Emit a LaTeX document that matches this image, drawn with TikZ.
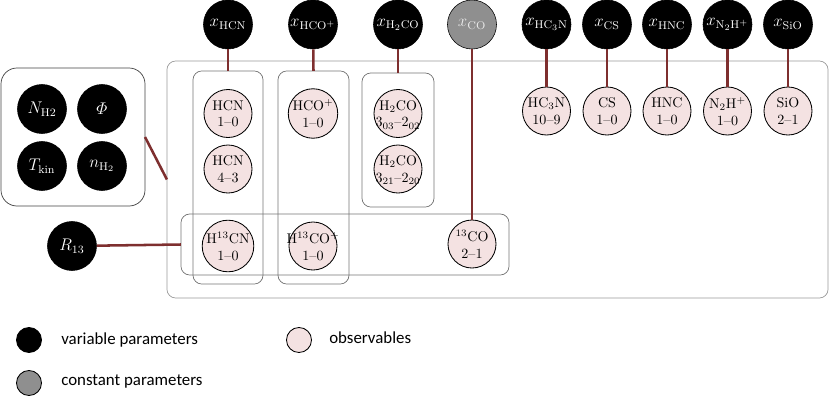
\documentclass[tikz,border=0pt]{standalone}
\usepackage{amsmath}
\usepackage{fontspec}
\newfontfamily\legendfont{Carlito}
\usepackage{tikz}
\definecolor{obspink}{HTML}{F4E2E2}
\definecolor{constgray}{HTML}{8F8F8F}
\definecolor{linkred}{HTML}{7E2F2F}

\begin{document}
\begin{tikzpicture}[x=0.025cm,y=-0.025cm,
    varpar/.style={circle, draw=black, fill=black, text=white, minimum size=1.225cm, inner sep=0pt, font=\large},
    constpar/.style={varpar, fill=constgray, text=white!92!black},
    obs/.style={circle, draw=black, line width=0.6pt, fill=obspink, minimum size=1.2cm, inner sep=0pt, align=center, font=\normalsize, text depth=0pt},
    plate/.style={draw=black!55, line width=0.5pt, rounded corners=0.22cm, inner sep=0pt, outer sep=0pt},
    link/.style={draw=linkred, line width=1.8pt},
    legdot/.style={circle, draw=black, line width=0.6pt, minimum size=0.625cm, inner sep=0pt},
    legtext/.style={anchor=west, inner sep=0pt, font=\legendfont\fontsize{12}{14}\selectfont}]
    \useasboundingbox (0,0) rectangle (830,396);

    % plates
    \node[plate, draw=black!40, minimum width=16.525cm, minimum height=5.925cm] (bigbox) at (497.5,179.5) {};
    \node[plate, minimum width=1.75cm, minimum height=5.325cm] (boxHCN) at (228,177.5) {};
    \node[plate, minimum width=1.775cm, minimum height=5.325cm] (boxHCO) at (313.5,177.5) {};
    \node[plate, minimum width=1.8cm, minimum height=3.35cm] (boxHHCO) at (398,140) {};
    \node[plate, minimum width=8.2cm, minimum height=1.525cm] (boxiso) at (345,244.5) {};
    \node[plate, draw=black!75, rounded corners=0.4cm, minimum width=3.6cm, minimum height=3.45cm] (physbox) at (73,137) {};

    % physical parameters
    \node[varpar] (NHH) at (42,109) {$N_{\mathrm{H2}}$};
    \node[varpar] (phi) at (102,109) {$\varPhi$};
    \node[varpar] (Tkin) at (42,166) {$T_{\mathrm{kin}}$};
    \node[varpar] (nHH) at (102,166) {$n_{\mathrm{H_2}}$};
    \node[varpar] (Rthirteen) at (72,246) {$R_{13}$};

    % abundances
    \node[varpar] (xHCN) at (228,24.5) {$x_{\mathrm{HCN}}$};
    \node[varpar] (xHCO) at (313,24.5) {$x_{\mathrm{HCO^+}}$};
    \node[varpar] (xHHCO) at (398,24.5) {$x_{\mathrm{H_2CO}}$};
    \node[constpar] (xCO) at (472,24.5) {$x_{\mathrm{CO}}$};
    \node[varpar] (xHCCCN) at (546.5,24.5) {$x_{\mathrm{HC_3N}}$};
    \node[varpar] (xCS) at (607,24.5) {$x_{\mathrm{CS}}$};
    \node[varpar] (xHNC) at (667,24.5) {$x_{\mathrm{HNC}}$};
    \node[varpar] (xNNH) at (727.5,24.5) {$x_{\mathrm{N_2H^+}}$};
    \node[varpar] (xSiO) at (788,24.5) {$x_{\mathrm{SiO}}$};

    % observables
    \node[obs] (HCNa) at (228,113.5) {HCN\\1--0};
    \node[obs] (HCNb) at (228,169) {HCN\\4--3};
    \node[obs] (HthCN) at (228,246) {H$^{13}$CN\\1--0};
    \node[obs] (HCO) at (313,113.5) {HCO$^+$\\1--0};
    \node[obs] (HthCO) at (313,246) {\makebox[0.8cm]{H$^{13}$CO$^+$}\\1--0};
    \node[obs] (HHCOa) at (398,113.5) {H$_2$CO\\\makebox[0.8cm]{$3_{03}$--$2_{02}$}};
    \node[obs] (HHCOb) at (398,169) {H$_2$CO\\\makebox[0.8cm]{$3_{21}$--$2_{20}$}};
    \node[obs] (thCO) at (472,244) {$^{13}$CO\\2--1};
    \node[obs] (HCCCN) at (546.5,111) {HC$_3$N\\10--9};
    \node[obs] (CS) at (607,111) {CS\\1--0};
    \node[obs] (HNC) at (667,111) {HNC\\1--0};
    \node[obs] (NNH) at (727.5,111) {N$_2$H$^+$\\1--0};
    \node[obs] (SiO) at (788,111) {SiO\\2--1};

    % links
    \draw[link] (physbox.east) -- (bigbox.west);
    \draw[link] (Rthirteen) -- (boxiso.west);
    \draw[link] (xHCN) -- (boxHCN.north);
    \draw[link] (xHCO) -- (boxHCO.north);
    \draw[link] (xHHCO) -- (boxHHCO.north);
    \draw[link] (xCO) -- (thCO);
    \draw[link] (xHCCCN) -- (HCCCN);
    \draw[link] (xCS) -- (CS);
    \draw[link] (xHNC) -- (HNC);
    \draw[link] (xNNH) -- (NNH);
    \draw[link] (xSiO) -- (SiO);

    % legend
    \node[legdot, fill=black] (legvar) at (29,340) {};
    \node[legdot, fill=constgray] (legconst) at (29,383) {};
    \node[legdot, fill=obspink] (legobs) at (299,340) {};
    \node[legtext] (legvartext) at (61,340) {variable parameters};
    \node[legtext] (legconsttext) at (61,382) {constant parameters};
    \node[legtext] (legobstext) at (329,338) {observables};
\end{tikzpicture}
\end{document}
